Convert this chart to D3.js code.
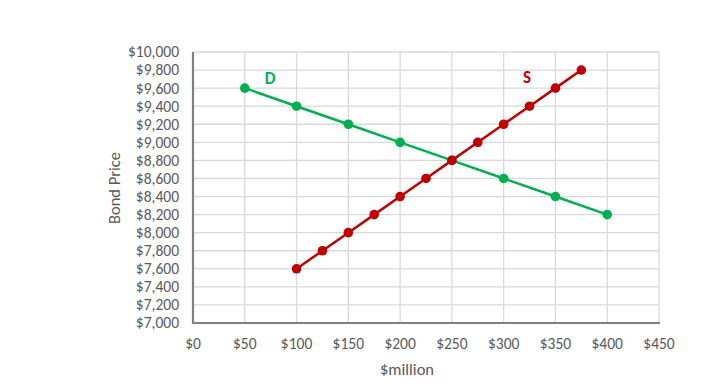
<!DOCTYPE html>
<html><head><meta charset="utf-8">
<script src="https://cdn.jsdelivr.net/npm/d3@7"></script>
<style>body{margin:0;background:#fff}svg{display:block}text{font-family:Carlito,Calibri,"Open Sans",sans-serif}</style>
</head><body><svg id="c" width="717" height="390"></svg>
<script>
const xTicks = [0,50,100,150,200,250,300,350,400,450];
const yTicks = [7000,7200,7400,7600,7800,8000,8200,8400,8600,8800,9000,9200,9400,9600,9800,10000];
const demandQ = [50,100,150,200,250,300,350,400];
const demandP = [9600,9400,9200,9000,8800,8600,8400,8200];
const supplyQ = [100,125,150,175,200,225,250,275,300,325,350,375];
const supplyP = [7600,7800,8000,8200,8400,8600,8800,9000,9200,9400,9600,9800];

const svg = d3.select("#c");
const L=193, R=659, T=52, B=323;
const x = d3.scaleLinear().domain([0,450]).range([L,R]);
const y = d3.scaleLinear().domain([7000,10000]).range([B,T]);
const fmt = d3.format(",");

svg.append("g").selectAll("line").data(yTicks).join("line")
  .attr("x1",L).attr("x2",R).attr("y1",d=>y(d)).attr("y2",d=>y(d))
  .attr("stroke","#d9d9d9").attr("stroke-width",1.3);
svg.append("g").selectAll("line").data(xTicks).join("line")
  .attr("y1",T).attr("y2",B).attr("x1",d=>x(d)).attr("x2",d=>x(d))
  .attr("stroke","#d9d9d9").attr("stroke-width",1.3);

svg.append("line").attr("x1",L).attr("x2",L).attr("y1",T).attr("y2",B+1).attr("stroke","#808080").attr("stroke-width",2.2);
svg.append("line").attr("x1",L-1).attr("x2",R+1).attr("y1",B).attr("y2",B).attr("stroke","#808080").attr("stroke-width",2.2);

svg.append("g").selectAll("text").data(yTicks).join("text")
  .attr("x",179).attr("y",d=>y(d)).attr("dy","0.35em").attr("text-anchor","end")
  .attr("font-size",15.5).attr("fill","#595959").text(d=>"$"+fmt(d));
svg.append("g").selectAll("text").data(xTicks).join("text")
  .attr("x",d=>x(d)).attr("y",349).attr("text-anchor","middle")
  .attr("font-size",15.5).attr("fill","#595959").text(d=>"$"+d);

svg.append("text").attr("x",407).attr("y",375).attr("text-anchor","middle")
  .attr("font-size",16.5).attr("fill","#595959").text("$million");
svg.append("text").attr("transform","translate(120,188) rotate(-90)").attr("text-anchor","middle")
  .attr("font-size",16.5).attr("fill","#595959").text("Bond Price");

const line = d3.line().x(d=>x(d[0])).y(d=>y(d[1]));
function series(q,p,color){
  const data = q.map((v,i)=>[v,p[i]]);
  svg.append("path").datum(data).attr("d",line).attr("fill","none").attr("stroke",color).attr("stroke-width",2.5);
  svg.append("g").selectAll("circle").data(data).join("circle")
    .attr("cx",d=>x(d[0])).attr("cy",d=>y(d[1])).attr("r",4.8).attr("fill",color);
}
series(demandQ,demandP,"#00b050");
series(supplyQ,supplyP,"#c00000");

svg.append("text").attr("x",270).attr("y",84).attr("text-anchor","middle").attr("font-size",17).attr("font-weight","bold").attr("fill","#00b050").text("D");
svg.append("text").attr("x",527).attr("y",83).attr("text-anchor","middle").attr("font-size",17).attr("font-weight","bold").attr("fill","#c00000").text("S");
</script></body></html>
